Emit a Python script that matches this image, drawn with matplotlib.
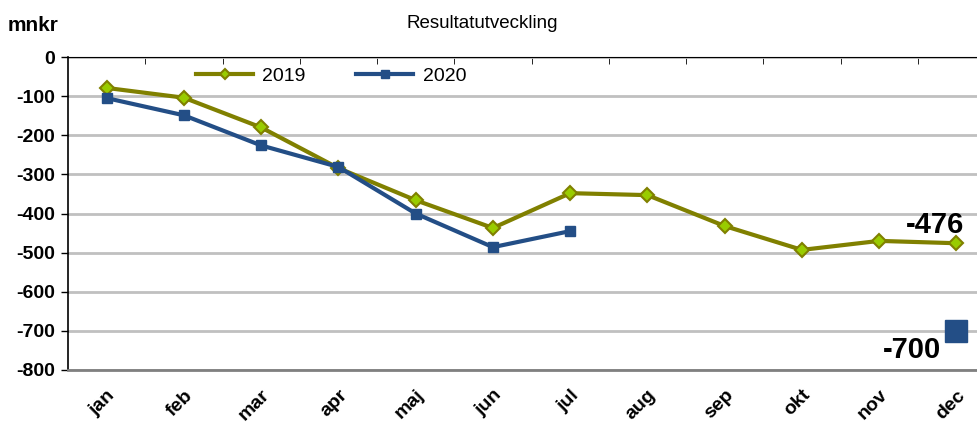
import matplotlib.pyplot as plt
from matplotlib.ticker import MultipleLocator

plt.rcParams['font.family'] = ['Liberation Sans', 'DejaVu Sans']
plt.rcParams['axes.unicode_minus'] = False

months = ['jan', 'feb', 'mar', 'apr', 'maj', 'jun', 'jul', 'aug', 'sep', 'okt', 'nov', 'dec']
res_2019 = [-79, -104, -180, -284, -366, -437, -348, -353, -432, -493, -470, -476]
res_2020 = [-105, -149, -226, -281, -400, -486, -445]
forecast_2020 = -700

olive = '#808000'
lime = '#99cc00'
navy = '#234e86'

fig = plt.figure(figsize=(9.77, 4.23), dpi=100)
ax = fig.add_axes([0.0696, 0.1253, 0.9394, 0.7399])

x19 = list(range(len(res_2019)))
x20 = list(range(len(res_2020)))

ax.plot(x19, res_2019, color=olive, lw=3, marker='D', ms=7,
        mfc=lime, mec=olive, mew=1.5, label='2019', zorder=3)
ax.plot(x20, res_2020, color=navy, lw=3, marker='s', ms=7,
        mfc=navy, mec=navy, label='2020', zorder=4)
ax.plot([11], [forecast_2020], marker='s', ms=16, color=navy, ls='none', zorder=5)

ax.text(10.72, res_2019[-1] + 12, str(res_2019[-1]), fontsize=21, fontweight='bold',
        ha='center', va='bottom')
ax.text(10.8, forecast_2020 - 12, str(forecast_2020), fontsize=21, fontweight='bold',
        ha='right', va='top')

ax.set_ylim(-800, 0)
ax.set_xlim(-0.5, 11.38)
ax.yaxis.set_major_locator(MultipleLocator(100))
ax.grid(axis='y', color='#c0c0c0', lw=2)
ax.set_axisbelow(True)

ax.set_xticks(x19)
ax.set_xticklabels(months, rotation=45, ha='right', rotation_mode='anchor',
                   fontsize=14, fontweight='bold')
ax.set_xticks([i - 0.5 for i in range(1, 12)], minor=True)
ax.tick_params(axis='x', which='major', length=0, pad=12)
ax.tick_params(axis='x', which='minor', bottom=False, top=True, direction='in', length=5)
ax.tick_params(axis='y', length=5, width=1, labelsize=14, pad=4)
for lbl in ax.get_yticklabels():
    lbl.set_fontweight('bold')

ax.spines['right'].set_visible(False)
ax.spines['top'].set_color('black')
ax.spines['bottom'].set_color('#808080')
ax.spines['bottom'].set_linewidth(2)
ax.spines['left'].set_linewidth(1.2)

ax.legend(loc='center', bbox_to_anchor=(0.339, 0.821), bbox_transform=fig.transFigure,
          ncol=2, frameon=False, fontsize=14, handlelength=2.9, handletextpad=0.5,
          columnspacing=2.6, markerscale=0.8)

fig.text(0.494, 0.945, 'Resultatutveckling', fontsize=13.5, ha='center', va='center')
fig.text(0.008, 0.94, 'mnkr', fontsize=15, fontweight='bold', ha='left', va='center')

fig.savefig('out.png', dpi=100)
